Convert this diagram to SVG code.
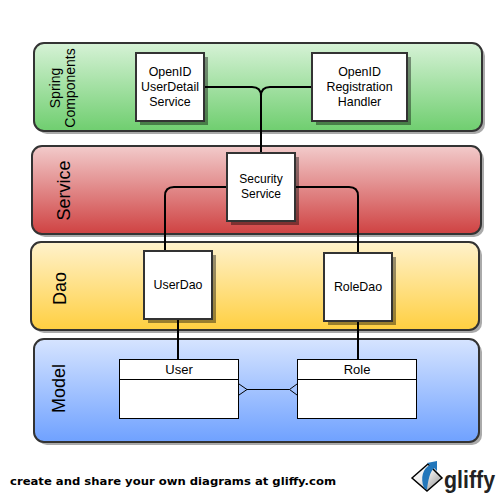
<svg xmlns="http://www.w3.org/2000/svg" width="502" height="498" viewBox="0 0 502 498">
<style>
.lane{stroke:#333;stroke-width:2}
.ls{fill:#aaa}
.box{fill:#fff;stroke:#333;stroke-width:2}
.sh{fill:#000;fill-opacity:.4}
.t{font-family:"Liberation Sans",Arial,sans-serif;font-size:12.4px;fill:#000;text-anchor:middle}
.s{font-size:12px}
.m{font-size:13px}
.h{font-family:"Liberation Sans",Arial,sans-serif;fill:#000;text-anchor:middle}
.c{fill:none;stroke:#000;stroke-width:2}
.u{fill:#fff;stroke:#000;stroke-width:1}
.thin{fill:none;stroke:#000;stroke-width:1}
</style>
<defs>
<linearGradient id="gG" x1="0" y1="0" x2="0" y2="1"><stop offset="0" stop-color="#d6f2d6"/><stop offset="1" stop-color="#6fce6f"/></linearGradient>
<linearGradient id="gR" x1="0" y1="0" x2="0" y2="1"><stop offset="0" stop-color="#f2cbcb"/><stop offset="1" stop-color="#cf4242"/></linearGradient>
<linearGradient id="gY" x1="0" y1="0" x2="0" y2="1"><stop offset="0" stop-color="#fff2cc"/><stop offset="1" stop-color="#ffcf40"/></linearGradient>
<linearGradient id="gB" x1="0" y1="0" x2="0" y2="1"><stop offset="0" stop-color="#d6e4ff"/><stop offset="1" stop-color="#6fa1ff"/></linearGradient>
<linearGradient id="gA" x1="0" y1="0" x2="1" y2="1"><stop offset="0" stop-color="#fff"/><stop offset=".45" stop-color="#eee"/><stop offset="1" stop-color="#888"/></linearGradient>
</defs>
<rect width="502" height="498" fill="#fff"/>
<g id="lane-spring">
<rect class="ls" x="37" y="46" width="448" height="88" rx="10"/>
<rect class="lane" x="34" y="43" width="448" height="88" rx="10" fill="url(#gG)"/>
<text class="h" font-size="14" transform="translate(65 88) rotate(-90)"><tspan x="0" y="-5">Spring</tspan><tspan x="0" y="10">Components</tspan></text>
</g>
<g id="lane-service">
<rect class="ls" x="35" y="149" width="449" height="88" rx="10"/>
<rect class="lane" x="32" y="146" width="449" height="88" rx="10" fill="url(#gR)"/>
<text class="h" font-size="18" transform="translate(70 190.500) rotate(-90)">Service</text>
</g>
<g id="lane-dao">
<rect class="ls" x="34" y="245" width="448" height="88" rx="10"/>
<rect class="lane" x="31" y="242" width="448" height="88" rx="10" fill="url(#gY)"/>
<text class="h" font-size="18" transform="translate(66 288.500) rotate(-90)">Dao</text>
</g>
<g id="lane-model">
<rect class="ls" x="37" y="342" width="445" height="103" rx="10"/>
<rect class="lane" x="34" y="339" width="445" height="103" rx="10" fill="url(#gB)"/>
<text class="h" font-size="18" transform="translate(65 388.500) rotate(-90)">Model</text>
</g>
<g id="connectors">
<path class="c" d="M204 87H252Q261 87 261 96V153"/>
<path class="c" d="M312 87H270Q261 87 261 96"/>
<path class="c" d="M227 187H174Q165 187 165 196V251"/>
<path class="c" d="M295 187H349Q358 187 358 196V253"/>
<path class="c" d="M178 319V359"/>
<path class="c" d="M358 321V359"/>
</g>
<g id="openid-userdetail">
<rect class="sh" x="140" y="57" width="68" height="68"/>
<rect class="box" x="136" y="53" width="68" height="68"/>
<text class="t" x="170" y="76">OpenID</text><text class="t" x="170" y="91">UserDetail</text><text class="t" x="170" y="106">Service</text>
</g>
<g id="openid-registration">
<rect class="sh" x="316" y="57" width="95" height="68"/>
<rect class="box" x="312" y="53" width="95" height="68"/>
<text class="t" x="359.500" y="76">OpenID</text><text class="t" x="359.500" y="91">Registration</text><text class="t" x="359.500" y="106">Handler</text>
</g>
<g id="security-service">
<rect class="sh" x="231" y="157" width="68" height="68"/>
<rect class="box" x="227" y="153" width="68" height="68"/>
<text class="t s" x="261" y="183">Security</text><text class="t s" x="261" y="198">Service</text>
</g>
<g id="userdao">
<rect class="sh" x="148" y="255" width="68" height="68"/>
<rect class="box" x="144" y="251" width="68" height="68"/>
<text class="t" x="178" y="289">UserDao</text>
</g>
<g id="roledao">
<rect class="sh" x="328" y="257" width="68" height="68"/>
<rect class="box" x="324" y="253" width="68" height="68"/>
<text class="t" x="358" y="291">RoleDao</text>
</g>
<g id="user">
<rect class="u" x="119.500" y="359.500" width="119" height="59"/>
<path class="thin" d="M119.500 379.500H238.500"/>
<text class="t m" x="179" y="374">User</text>
</g>
<g id="role">
<rect class="u" x="297.500" y="359.500" width="119" height="59"/>
<path class="thin" d="M297.500 379.500H416.500"/>
<text class="t m" x="357" y="374">Role</text>
</g>
<g id="association">
<path class="thin" d="M247 389.500H289.500M239 384L247 389.500L239 395M297 384L289.500 389.500L297 395"/>
</g>
<text x="10" y="485" font-family="'DejaVu Sans',Verdana,sans-serif" font-size="11" font-weight="bold" fill="#000" textLength="326" lengthAdjust="spacingAndGlyphs">create and share your own diagrams at gliffy.com</text>
<g id="gliffy-logo">
<path d="M412 478L428 464L442 478L427 491Z" fill="url(#gA)" stroke="#000" stroke-width="1.500"/>
<path d="M424 488C420 478 423 468 430 465L427 463L437 461L437 471L434 468C430 472 428 480 427 490Z" fill="#2277bb"/>
<text x="444" y="487.500" font-family="'Liberation Sans',Arial,sans-serif" font-size="24" font-weight="bold" fill="#222" textLength="51" lengthAdjust="spacingAndGlyphs">gliffy</text>
</g>
</svg>
